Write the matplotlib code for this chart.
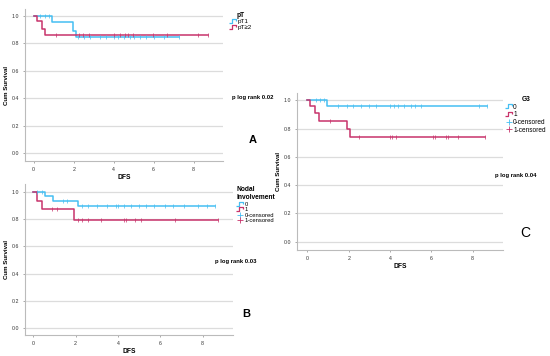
import numpy as np
import matplotlib
matplotlib.use("Agg")
import matplotlib.pyplot as plt
from matplotlib.lines import Line2D
from matplotlib.path import Path

plt.rcParams['font.family'] = ['Liberation Sans', 'DejaVu Sans']

BLUE = '#45bff2'
RED = '#c8336b'
GRID = '#dcdcdc'

# ---------------- data ----------------
# Panel A: pT
a_pt1_times = [0, 0.93, 1.98, 2.1]
a_pt1_surv = [1.0, 0.952, 0.89, 0.843]
a_pt1_end = 7.28
a_pt1_cens = [0.3, 0.55, 0.75, 2.2, 2.5, 2.8, 3.3, 3.6, 4.0, 4.2, 4.5, 4.8, 5.0, 5.3, 5.6, 6.0, 6.5, 7.28]
a_pt2_times = [0, 0.15, 0.4, 0.57]
a_pt2_surv = [1.0, 0.959, 0.905, 0.862]
a_pt2_end = 8.7
a_pt2_cens = [1.1, 2.25, 2.48, 2.78, 4.03, 4.3, 4.57, 4.73, 4.98, 5.98, 6.65, 8.23, 8.7]

# Panel B: Nodal involvement
b_n0_times = [0, 0.55, 0.95, 2.1]
b_n0_surv = [1.0, 0.971, 0.934, 0.895]
b_n0_end = 8.58
b_n0_cens = [0.2, 0.4, 1.4, 1.6, 2.3, 2.6, 3.0, 3.5, 3.9, 4.0, 4.3, 4.6, 5.0, 5.3, 5.7, 6.2, 6.6, 7.1, 7.8, 8.2, 8.58]
b_n1_times = [0, 0.16, 0.43, 1.94]
b_n1_surv = [1.0, 0.934, 0.873, 0.793]
b_n1_end = 8.7
b_n1_cens = [0.9, 1.1, 2.1, 2.3, 2.6, 3.2, 4.3, 4.4, 4.8, 5.1, 6.7, 8.7]

# Panel C: G3
c_g0_times = [0, 0.95]
c_g0_surv = [1.0, 0.96]
c_g0_end = 8.7
c_g0_cens = [0.4, 0.6, 0.8, 1.5, 1.9, 2.2, 2.6, 3.0, 3.3, 4.0, 4.2, 4.4, 4.7, 5.0, 5.2, 5.5, 8.3, 8.7]
c_g1_times = [0, 0.15, 0.39, 0.55, 1.92, 2.08]
c_g1_surv = [1.0, 0.96, 0.908, 0.854, 0.80, 0.743]
c_g1_end = 8.6
c_g1_cens = [1.1, 2.5, 4.0, 4.1, 4.3, 6.1, 6.2, 6.7, 6.8, 7.3, 8.6]

x_ticks = [0, 2, 4, 6, 8]
y_ticks = [0.0, 0.2, 0.4, 0.6, 0.8, 1.0]
# ---------------------------------------

W, H = 550, 356
fig = plt.figure(figsize=(W / 100, H / 100), dpi=100)


def px_axes(l, t, r, b):
    return fig.add_axes([l / W, 1 - b / H, (r - l) / W, (b - t) / H])


def km(ax, times, surv, end, cens, color):
    t = list(times) + [end]
    s = list(surv) + [surv[-1]]
    ax.step(t, s, where='post', color=color, lw=1.1, zorder=3)
    idx = np.searchsorted(np.array(times), np.array(cens), side='right') - 1
    cs = np.array(surv)[idx]
    ax.plot(cens, cs, ls='none', marker='|', ms=2.5, mew=0.5, color=color, zorder=4)


def style(ax, xlim, ylim):
    ax.set_xlim(*xlim)
    ax.set_ylim(*ylim)
    ax.set_xticks(x_ticks)
    ax.set_yticks(y_ticks)
    ax.set_yticklabels([f'{v:.1f}' for v in y_ticks])
    ax.tick_params(labelsize=3.8, length=1.5, width=0.5, colors='#888888', labelcolor='#333333', pad=2.5)
    for sp in ['top', 'right']:
        ax.spines[sp].set_visible(False)
    for sp in ['left', 'bottom']:
        ax.spines[sp].set_color('#bbbbbb')
        ax.spines[sp].set_linewidth(0.8)
    ax.grid(axis='y', color=GRID, lw=0.9)
    ax.set_axisbelow(True)
    ax.set_xlabel('DFS', fontsize=4.8, fontweight='bold', labelpad=1.5)
    ax.set_ylabel('Cum Survival', fontsize=4.4, fontweight='bold', labelpad=2)


step_marker = Path([(-1.0, -0.5), (-0.2, -0.5), (-0.2, 0.5), (0.6, 0.5), (0.6, 0.0)],
                   [Path.MOVETO, Path.LINETO, Path.LINETO, Path.LINETO, Path.LINETO])


def h_step(color):
    return Line2D([], [], ls='none', marker=step_marker, ms=6, mew=0.9,
                  mfc='none', mec=color)


def h_cens(color):
    return Line2D([], [], ls='none', marker='+', ms=5, mew=0.6, color=color)


# Panel A
axA = px_axes(25, 9, 223, 161)
km(axA, a_pt1_times, a_pt1_surv, a_pt1_end, a_pt1_cens, BLUE)
km(axA, a_pt2_times, a_pt2_surv, a_pt2_end, a_pt2_cens, RED)
style(axA, (-0.435, 9.47), (-0.058, 1.049))
legA = axA.legend([h_step(BLUE), h_step(RED)], ['pT1', 'pT≥2'], title='pT',
                  loc='upper left', bbox_to_anchor=(226 / W, 1 - 8 / H), bbox_transform=fig.transFigure,
                  frameon=False, fontsize=4.5, title_fontsize=4.8, handlelength=1.0,
                  handletextpad=0.2, labelspacing=0.05, borderpad=0.1)
legA.get_title().set_fontweight('bold')
fig.text(232 / W, 1 - 97 / H, 'p log rank 0.02', fontsize=4.2, fontweight='bold', va='center')
fig.text(253 / W, 1 - 140 / H, 'A', fontsize=8, fontweight='bold', ha='center', va='center')

# Panel B
axB = px_axes(25, 184, 233, 335)
km(axB, b_n0_times, b_n0_surv, b_n0_end, b_n0_cens, BLUE)
km(axB, b_n1_times, b_n1_surv, b_n1_end, b_n1_cens, RED)
style(axB, (-0.39, 9.43), (-0.049, 1.056))
legB = axB.legend([h_step(BLUE), h_step(RED), h_cens(BLUE), h_cens(RED)],
                  ['0', '1', '0-censored', '1-censored'], title='Nodal\nInvolvement',
                  loc='upper left', bbox_to_anchor=(233 / W, 1 - 183 / H), bbox_transform=fig.transFigure,
                  frameon=False, fontsize=4.2, title_fontsize=4.8, handlelength=1.0,
                  handletextpad=0.2, labelspacing=0.05, borderpad=0.1)
legB.get_title().set_fontweight('bold')
fig.text(215 / W, 1 - 261 / H, 'p log rank 0.03', fontsize=4.2, fontweight='bold', va='center')
fig.text(246 / W, 1 - 314 / H, 'B', fontsize=8, fontweight='bold', ha='center', va='center')

# Panel C
axC = px_axes(297, 93, 503, 250)
km(axC, c_g0_times, c_g0_surv, c_g0_end, c_g0_cens, BLUE)
km(axC, c_g1_times, c_g1_surv, c_g1_end, c_g1_cens, RED)
style(axC, (-0.5, 9.47), (-0.059, 1.052))
legC = axC.legend([h_step(BLUE), h_step(RED), h_cens(BLUE), h_cens(RED)],
                  ['0', '1', '0-censored', '1-censored'], title='G3',
                  loc='upper left', bbox_to_anchor=(502 / W, 1 - 92 / H), bbox_transform=fig.transFigure,
                  frameon=False, fontsize=4.7, title_fontsize=4.8, handlelength=1.0,
                  handletextpad=0.1, labelspacing=0.1, borderpad=0.1)
legC.get_title().set_fontweight('bold')
fig.text(495 / W, 1 - 176 / H, 'p log rank 0.04', fontsize=4.2, fontweight='bold', va='center')
fig.text(525 / W, 1 - 233 / H, 'C', fontsize=10, ha='center', va='center')

fig.savefig('out.png', dpi=100)
